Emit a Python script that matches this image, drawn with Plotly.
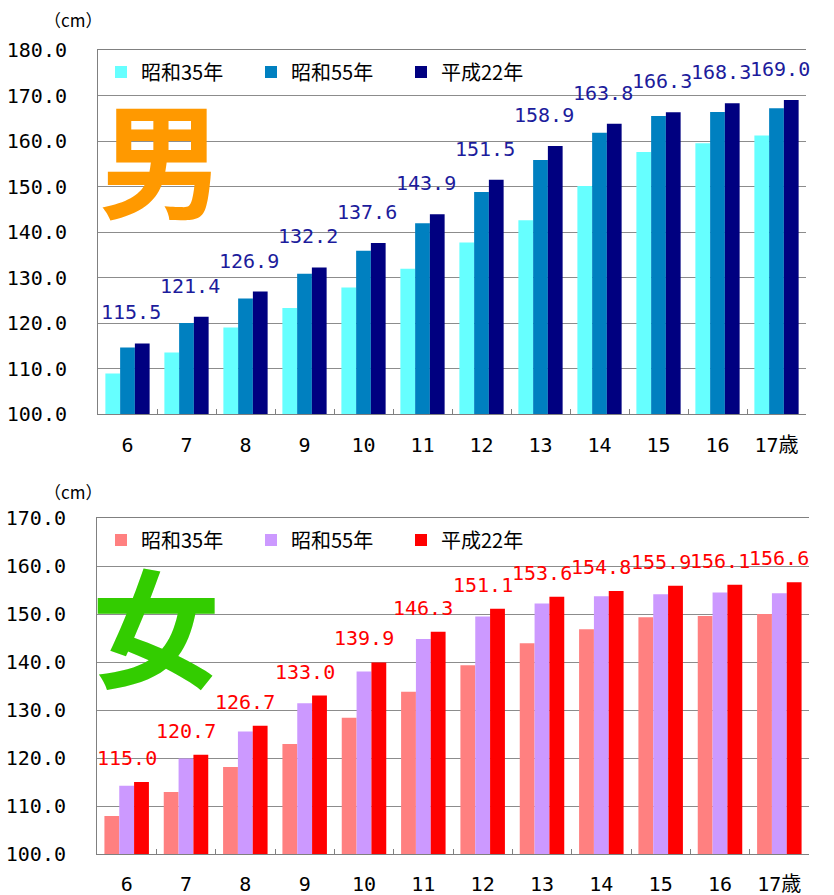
import plotly.graph_objects as go

ages = ["6", "7", "8", "9", "10", "11", "12", "13", "14", "15", "16", "17歳"]
series_names = ["昭和35年", "昭和55年", "平成22年"]

boys_s35 = [108.9, 113.5, 119.0, 123.3, 127.8, 131.9, 137.7, 142.6, 150.1, 157.6, 159.5, 161.2]
boys_s55 = [114.6, 120.0, 125.4, 130.8, 135.9, 141.9, 148.8, 155.8, 161.8, 165.5, 166.4, 167.2]
boys_h22 = [115.5, 121.4, 126.9, 132.2, 137.6, 143.9, 151.5, 158.9, 163.8, 166.3, 168.3, 169.0]

girls_s35 = [107.9, 112.9, 118.1, 122.9, 128.4, 133.8, 139.3, 143.9, 146.8, 149.3, 149.6, 150.0]
girls_s55 = [114.2, 119.9, 125.5, 131.4, 138.0, 144.8, 149.5, 152.2, 153.7, 154.1, 154.5, 154.3]
girls_h22 = [115.0, 120.7, 126.7, 133.0, 139.9, 146.3, 151.1, 153.6, 154.8, 155.9, 156.1, 156.6]

boy_colors = ["#66FFFF", "#0080C0", "#000080"]
girl_colors = ["#FF8080", "#CC99FF", "#FF0000"]

NUM_FONT = "DejaVu Sans Mono, Noto Sans CJK JP"
JP_FONT = "Noto Sans CJK JP"

W, H = 834, 895


def px_x(v):
    return v / W


def px_y(v):
    return 1 - v / H


fig = go.Figure()

for name, vals, col in zip(series_names, [boys_s35, boys_s55, boys_h22], boy_colors):
    fig.add_trace(go.Bar(x=ages, y=vals, name=name, marker=dict(color=col, line=dict(width=0)),
                         xaxis="x", yaxis="y", legend="legend", hoverinfo="skip"))
for name, vals, col in zip(series_names, [girls_s35, girls_s55, girls_h22], girl_colors):
    fig.add_trace(go.Bar(x=ages, y=vals, name=name, marker=dict(color=col, line=dict(width=0)),
                         xaxis="x2", yaxis="y2", legend="legend2", hoverinfo="skip"))

annotations = []
# category axes: use the category index for annotation positions
for i, v in enumerate(boys_h22):
    annotations.append(dict(x=i, y=v, xref="x", yref="y", text=f"{v:.1f}", showarrow=False,
                            yanchor="bottom", xanchor="center", xshift=3, yshift=17,
                            font=dict(family=NUM_FONT, size=20, color="#1C1C9C")))
for i, v in enumerate(girls_h22):
    annotations.append(dict(x=i, y=v, xref="x2", yref="y2", text=f"{v:.1f}", showarrow=False,
                            yanchor="bottom", xanchor="center", xshift=0, yshift=10,
                            font=dict(family=NUM_FONT, size=20, color="#FF0000")))

# unit labels
for yy in (20, 491):
    annotations.append(dict(x=px_x(42), y=px_y(yy), xref="paper", yref="paper", text="（cm）",
                            showarrow=False, xanchor="left", yanchor="middle",
                            font=dict(family=JP_FONT, size=17, color="#000000")))
# big characters
annotations.append(dict(x=px_x(161), y=px_y(155), xref="paper", yref="paper", text="<b>男</b>",
                        showarrow=False, xanchor="center", yanchor="middle",
                        font=dict(family=JP_FONT, size=125, color="#FF9900")))
annotations.append(dict(x=px_x(156), y=px_y(622), xref="paper", yref="paper", text="<b>女</b>",
                        showarrow=False, xanchor="center", yanchor="middle",
                        font=dict(family=JP_FONT, size=128, color="#33CC00")))

xcommon = dict(type="category", showline=True, mirror=True, linecolor="#808080", linewidth=1,
               ticks="inside", tickson="boundaries", ticklen=5, tickcolor="#808080",
               tickfont=dict(family=NUM_FONT, size=20, color="#000000"), tickangle=0,
               ticklabelstandoff=13, showgrid=False, zeroline=False, range=[-0.5, 11.5],
               automargin=False)
ycommon = dict(showline=True, linecolor="#808080", linewidth=1, dtick=10, tickformat=".1f",
               showgrid=True, gridcolor="#8C8C8C", gridwidth=1, zeroline=False, ticks="",
               tickfont=dict(family=NUM_FONT, size=20, color="#000000"),
               ticklabelstandoff=26, automargin=False)

legend_common = dict(orientation="h", xanchor="left", yanchor="middle",
                     font=dict(family=JP_FONT, size=20, color="#000000"),
                     entrywidth=105, bgcolor="rgba(255,255,255,0)", borderwidth=0,
                     traceorder="normal")

fig.update_layout(
    width=W, height=H,
    margin=dict(l=0, r=0, t=0, b=0, autoexpand=False),
    paper_bgcolor="white", plot_bgcolor="white",
    barmode="group", bargap=0.25, bargroupgap=0,
    showlegend=True,
    xaxis=dict(domain=[px_x(98), px_x(806)], anchor="y", **xcommon),
    yaxis=dict(domain=[px_y(414), px_y(50)], anchor="x", range=[100, 180], **ycommon),
    xaxis2=dict(domain=[px_x(97), px_x(809)], anchor="y2", **xcommon),
    yaxis2=dict(domain=[px_y(854), px_y(518)], anchor="x2", range=[100, 170], **ycommon),
    legend=dict(x=px_x(101), y=px_y(72), **legend_common),
    legend2=dict(x=px_x(101), y=px_y(540), **legend_common),
    annotations=annotations,
)
fig.update_xaxes(ticklabelstandoff=12, selector=dict(anchor="y2"))

fig.write_html("out.html", config={"displayModeBar": False},
               post_script="document.body.style.margin='0';document.body.style.overflow='hidden';")
